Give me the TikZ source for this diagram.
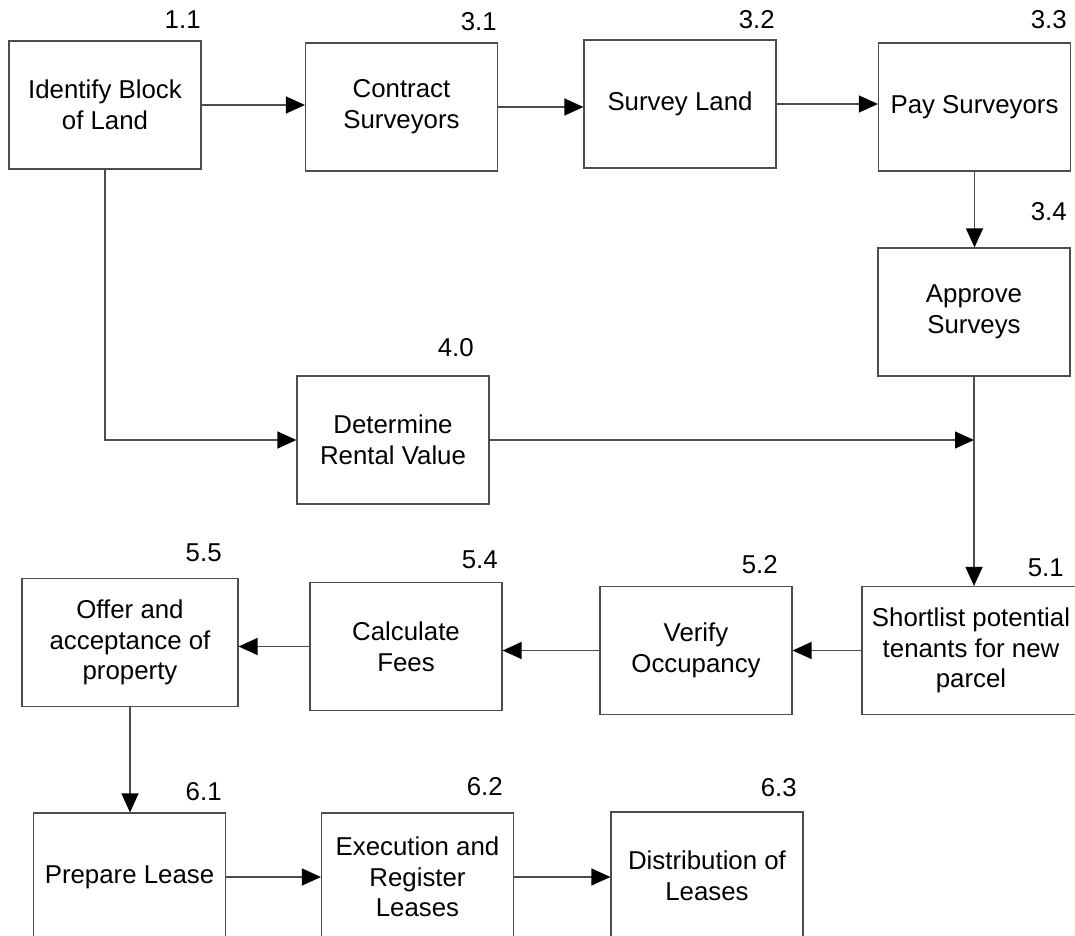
\documentclass[tikz,border=0pt]{standalone}
\usepackage{fontspec}
\setmainfont{Liberation Sans}
\usepackage{tikz}
\usetikzlibrary{arrows.meta}

\begin{document}
\begin{tikzpicture}[x=0.02cm, y=-0.02cm,
    every node/.style={font=\fontsize{14.7}{17.5}\selectfont},
    proc/.style={draw=black!70, line width=0.7pt, minimum width=3.84cm,
                 minimum height=2.56cm, align=center, inner sep=1pt},
    num/.style={anchor=east, inner sep=0pt},
    flow/.style={draw=black!70, line width=0.7pt,
                 -{Triangle[length=0.38cm, width=0.34cm, black]}}]
      \useasboundingbox (0,0) rectangle (1075,936);

      \node[proc] (B11) at (105, 105)   {Identify Block\\of Land};
      \node[proc] (B31) at (401.5, 107) {Contract\\Surveyors};
      \node[proc] (B32) at (680, 104)   {Survey Land};
      \node[proc] (B33) at (974.5, 107) {Pay Surveyors};
      \node[num]  (N11) at (201, 20)  {1.1};
      \node[num]  (N31) at (497, 22)  {3.1};
      \node[num]  (N32) at (775, 20)  {3.2};
      \node[num]  (N33) at (1067, 20) {3.3};

      \draw[flow] (B11.east) -- (B11.east -| B31.west);
      \draw[flow] (B31.east) -- (B31.east -| B32.west);
      \draw[flow] (B32.east) -- (B32.east -| B33.west);

      \node[proc] (B34) at (974, 312) {Approve\\Surveys};
      \node[proc] (B40) at (393, 440) {Determine\\Rental Value};
      \node[num]  (N34) at (1067, 212) {3.4};
      \node[num]  (N40) at (474, 348)  {4.0};
      \coordinate (J) at (B34.south |- B40.east);

      \draw[flow] (B33.south) -- (B33.south |- B34.north);
      \draw[flow] (B11.south) |- (B40.west);
      \draw[flow] (B40.east) -- (J);

      \node[proc, minimum width=4.36cm] (B51) at (971, 650.5) {Shortlist potential\\tenants for new\\parcel};
      \node[proc] (B52) at (696, 650.5) {Verify\\Occupancy};
      \node[proc] (B54) at (406, 646.5) {Calculate\\Fees};
      \node[proc, minimum width=4.32cm] (B55) at (130, 642.5) {Offer and\\acceptance of\\property};
      \node[num]  (N51) at (1064, 568) {5.1};
      \node[num]  (N52) at (778, 565)  {5.2};
      \node[num]  (N54) at (498, 560)  {5.4};
      \node[num]  (N55) at (222, 553)  {5.5};

      \draw[flow] (B34.south) -- (B34.south |- B51.north);
      \draw[flow] (B51.west) -- (B51.west -| B52.east);
      \draw[flow] (B52.west) -- (B52.west -| B54.east);
      \draw[flow] (B54.west) -- (B54.west -| B55.east);

      \node[proc] (B61) at (129.5, 877) {Prepare Lease};
      \node[proc] (B62) at (417.5, 877) {Execution and\\Register\\Leases};
      \node[proc] (B63) at (707, 876)   {Distribution of\\Leases};
      \node[num]  (N61) at (222, 792) {6.1};
      \node[num]  (N62) at (503, 787) {6.2};
      \node[num]  (N63) at (797, 788) {6.3};

      \draw[flow] (B55.south) -- (B55.south |- B61.north);
      \draw[flow] (B61.east) -- (B61.east -| B62.west);
      \draw[flow] (B62.east) -- (B62.east -| B63.west);
    \end{tikzpicture}
\end{document}
